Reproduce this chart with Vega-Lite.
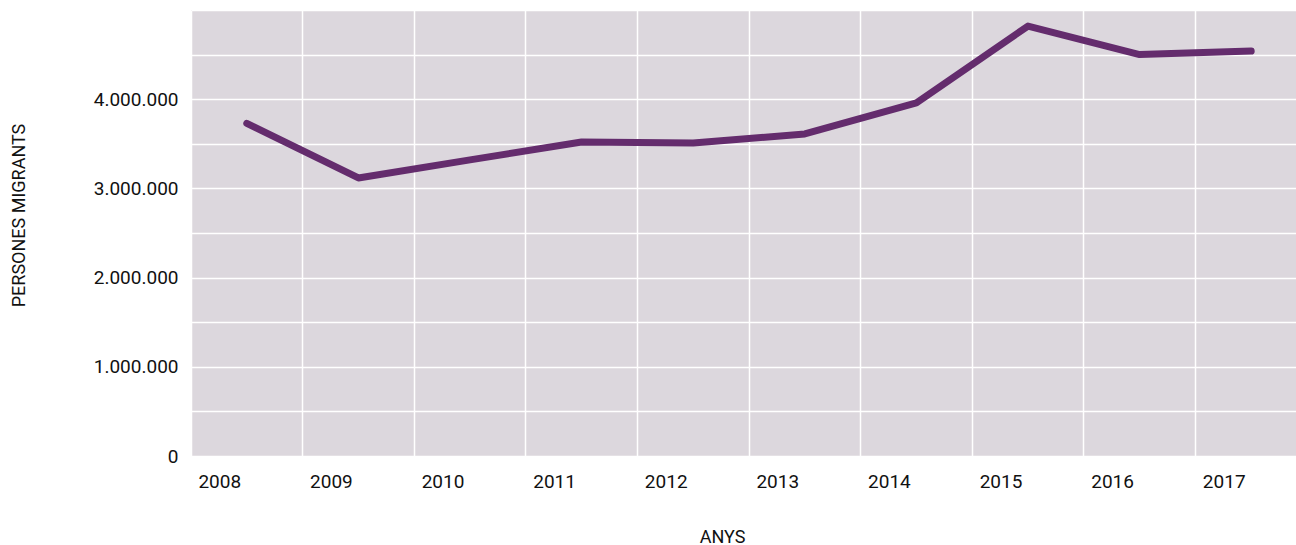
{
  "$schema": "https://vega.github.io/schema/vega-lite/v6.json",
  "width": 1105,
  "height": 446,
  "autosize": "none",
  "padding": {"left": 191, "top": 10, "right": 0, "bottom": 89},
  "config": {
    "locale": {"number": {"decimal": ",", "thousands": ".", "grouping": [3], "currency": ["", " €"]}},
    "view": {"fill": "#dcd7dd", "stroke": null},
    "font": "Roboto"
  },
  "data": {
    "values": [
      {"any": "2008", "persones": 3730000},
      {"any": "2009", "persones": 3117000},
      {"any": "2010", "persones": 3320000},
      {"any": "2011", "persones": 3520000},
      {"any": "2012", "persones": 3510000},
      {"any": "2013", "persones": 3610000},
      {"any": "2014", "persones": 3960000},
      {"any": "2015", "persones": 4820000},
      {"any": "2016", "persones": 4500000},
      {"any": "2017", "persones": 4540000}
    ]
  },
  "mark": {"type": "line", "color": "#642c6d", "strokeWidth": 7, "strokeCap": "round", "strokeJoin": "round"},
  "encoding": {
    "x": {
      "field": "any",
      "type": "ordinal",
      "bandPosition": 0.5,
      "scale": {"type": "band", "range": [0, 1116], "paddingInner": 0, "paddingOuter": 0},
      "axis": {
        "title": "ANYS",
        "bandPosition": 0,
        "grid": true,
        "gridColor": "#ffffff",
        "gridWidth": 1.5,
        "domain": false,
        "ticks": false,
        "labelAngle": 0,
        "labelOffset": -27,
        "labelPadding": 16,
        "labelFontSize": 19,
        "labelColor": "#111111",
        "labelFont": "Roboto",
        "titleFont": "Roboto",
        "titleFontWeight": "normal",
        "titleFontSize": 18,
        "titleColor": "#111111",
        "titleX": 531,
        "titleY": 81,
        "titleBaseline": "middle",
        "titleAlign": "center"
      }
    },
    "y": {
      "field": "persones",
      "type": "quantitative",
      "scale": {"domain": [0, 5000000], "nice": false},
      "axis": {
        "title": "PERSONES MIGRANTS",
        "values": [0, 500000, 1000000, 1500000, 2000000, 2500000, 3000000, 3500000, 4000000, 4500000, 5000000],
        "format": ",d",
        "labelExpr": "datum.value % 1000000 == 0 && datum.value < 5000000 ? datum.label : ''",
        "grid": true,
        "gridColor": "#ffffff",
        "gridWidth": 1.5,
        "domain": false,
        "ticks": false,
        "labelPadding": 13,
        "labelFontSize": 19,
        "labelColor": "#111111",
        "labelFont": "Roboto",
        "titleFont": "Roboto",
        "titleFontWeight": "normal",
        "titleFontSize": 18,
        "titleColor": "#111111",
        "titleAngle": -90,
        "titleX": -171.5,
        "titleY": 205,
        "titleBaseline": "middle",
        "titleAlign": "center"
      }
    }
  }
}
